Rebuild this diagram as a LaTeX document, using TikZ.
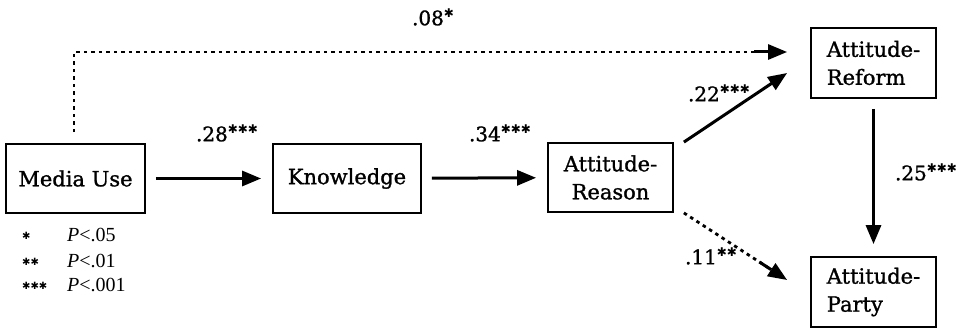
\documentclass[tikz,border=0pt]{standalone}
\usepackage{fontspec}
\setmainfont[FakeBold=1.2]{DejaVu Serif}
\newfontfamily\legfont{Liberation Serif}
\newfontfamily\starfont{DejaVu Sans}
\usetikzlibrary{arrows.meta}
\newcommand{\stars}[1]{\raisebox{8pt}{\starfont\fontsize{12}{12}\selectfont#1}}
\begin{document}
\begin{tikzpicture}[x=1pt,y=-1pt,
  box/.style={draw, line width=1.8pt, inner sep=0pt, minimum height=69pt,
    font=\fontsize{21}{28}\selectfont},
  lbl/.style={font=\fontsize{20}{20}\selectfont, inner sep=0pt},
  leg/.style={font=\legfont\fontsize{20}{20}\selectfont, inner sep=0pt, anchor=base west},
  legst/.style={font=\starfont\fontsize{10}{10}\selectfont, inner sep=0pt, anchor=base west},
  arr/.style={line width=3pt, -{Triangle[length=19pt,width=15pt]}},
  dots/.style={line width=2.8pt, dash pattern=on 3.5pt off 4pt,
    -{Rectangle[length=14pt,width=3pt,sep=0pt]Triangle[length=19pt,width=15pt]}}]
\useasboundingbox (0,0) rectangle (967,328);

\node[box, minimum width=139pt] (media) at (75.5,178.5) {Media Use};
\node[box, minimum width=148pt] (know) at (347,178.5) {Knowledge};
\node[box, minimum width=125pt, align=center] (reason) at (610.5,177.5) {Attitude-\\Reason};
\node[box, minimum width=125pt, minimum height=70pt, align=left] (reform) at (873.5,63) {Attitude-\\Reform};
\node[box, minimum width=125pt, minimum height=70pt, align=left] (party) at (873.5,292) {Attitude-\\Party};

\draw[arr, shorten <=10pt, shorten >=11pt] (media) -- (know);
\draw[arr, shorten <=10pt, shorten >=11pt] (know) -- (reason);
\draw[arr] ([xshift=10pt]reason.north east) -- ([xshift=-23pt,yshift=-10pt]reform.west);
\draw[arr, shorten <=10pt, shorten >=12pt] (reform) -- (party);
\draw[dots, shorten <=11pt] ([xshift=-1.5pt]media.north) |- ([xshift=-23pt,yshift=11pt]reform.west);
\draw[dots] ([xshift=10pt]reason.south east) -- ([xshift=-23pt,yshift=12pt]party.west);

\node[lbl] (l08) at (433,17) {.08\stars{✱}};
\node[lbl] (l28) at (227,133) {.28\stars{✱✱✱}};
\node[lbl] (l34) at (500,133) {.34\stars{✱✱✱}};
\node[lbl] (l22) at (719,93) {.22\stars{✱✱✱}};
\node[lbl] (l25) at (926,172) {.25\stars{✱✱✱}};
\node[lbl] (l11) at (711,256) {.11\stars{✱✱}};

\node[legst] (s1) at (22,240) {✱};
\node[legst] (s2) at (22,266) {✱✱};
\node[legst] (s3) at (22,290) {✱✱✱};
\node[leg] (p1) at (67,242) {\textit{P}<.05};
\node[leg] (p2) at (67,268) {\textit{P}<.01};
\node[leg] (p3) at (67,292) {\textit{P}<.001};
\end{tikzpicture}
\end{document}
